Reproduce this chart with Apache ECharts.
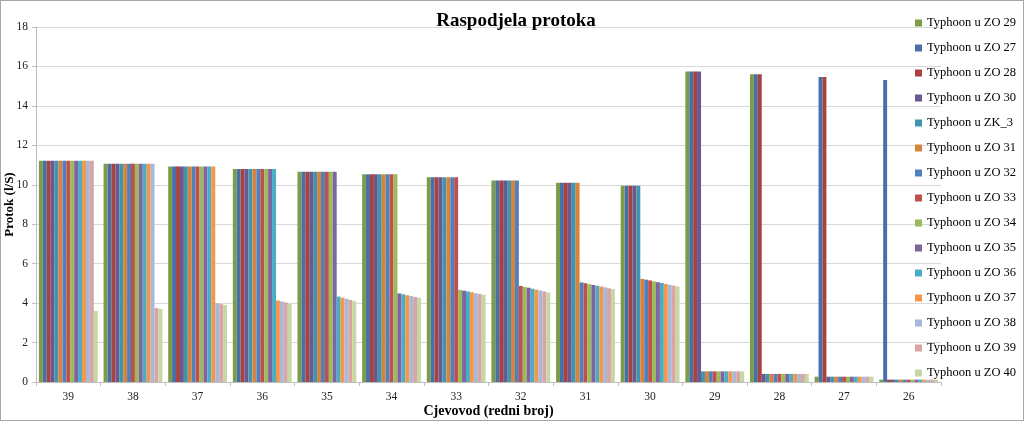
<!DOCTYPE html>
<html>
<head>
<meta charset="utf-8">
<script src="https://cdn.jsdelivr.net/npm/echarts@6/dist/echarts.min.js"></script>
<style>
html,body{margin:0;padding:0;background:#fff;}
#frame{width:1024px;height:421px;box-sizing:border-box;border:1px solid #a6a6a6;position:relative;}
#chart{position:absolute;left:0;top:0;width:1022px;height:419px;}
</style>
</head>
<body>
<div id="frame"><div id="chart"></div></div>
<script>
const categories = ['39','38','37','36','35','34','33','32','31','30','29','28','27','26'];
const yTicks = {min: 0, max: 18, interval: 2};
const seriesNames = ['Typhoon u ZO 29','Typhoon u ZO 27','Typhoon u ZO 28','Typhoon u ZO 30','Typhoon u ZK_3','Typhoon u ZO 31','Typhoon u ZO 32','Typhoon u ZO 33','Typhoon u ZO 34','Typhoon u ZO 35','Typhoon u ZO 36','Typhoon u ZO 37','Typhoon u ZO 38','Typhoon u ZO 39','Typhoon u ZO 40'];
const zo29 = [11.22,11.07,10.93,10.80,10.66,10.53,10.38,10.22,10.10,9.95,15.74,15.60,0.27,0.12];
const zo27 = [11.22,11.07,10.93,10.80,10.66,10.53,10.38,10.22,10.10,9.95,15.74,15.60,15.47,15.31];
const zo28 = [11.22,11.07,10.93,10.80,10.66,10.53,10.38,10.22,10.10,9.95,15.74,15.60,15.47,0.12];
const zo30 = [11.22,11.07,10.93,10.80,10.66,10.53,10.38,10.22,10.10,9.95,15.74,0.41,0.27,0.12];
const zk3  = [11.22,11.07,10.93,10.80,10.66,10.53,10.38,10.22,10.10,9.95,0.54,0.41,0.27,0.12];
const zo31 = [11.22,11.07,10.93,10.80,10.66,10.53,10.38,10.22,10.10,5.23,0.54,0.41,0.27,0.12];
const zo32 = [11.22,11.07,10.93,10.80,10.66,10.53,10.38,10.22,5.05,5.19,0.54,0.41,0.27,0.12];
const zo33 = [11.22,11.07,10.93,10.80,10.66,10.53,10.38,4.87,5.01,5.15,0.54,0.41,0.27,0.12];
const zo34 = [11.22,11.07,10.93,10.80,10.66,10.53,4.67,4.82,4.96,5.10,0.54,0.41,0.27,0.12];
const zo35 = [11.22,11.07,10.93,10.80,10.66,4.49,4.63,4.78,4.92,5.06,0.54,0.41,0.27,0.12];
const zo36 = [11.22,11.07,10.93,10.80,4.33,4.45,4.59,4.73,4.88,5.02,0.54,0.41,0.27,0.12];
const zo37 = [11.22,11.07,10.93,4.13,4.27,4.40,4.55,4.68,4.84,4.97,0.54,0.41,0.27,0.12];
const zo38 = [11.22,11.07,4.00,4.08,4.22,4.36,4.50,4.64,4.80,4.93,0.54,0.41,0.27,0.12];
const zo39 = [11.22,3.75,3.95,4.03,4.16,4.31,4.46,4.59,4.75,4.89,0.54,0.41,0.27,0.12];
const zo40 = [3.60,3.70,3.90,3.98,4.10,4.27,4.42,4.54,4.71,4.84,0.54,0.41,0.27,0.12];
const seriesValues = [zo29,zo27,zo28,zo30,zk3,zo31,zo32,zo33,zo34,zo35,zo36,zo37,zo38,zo39,zo40];
const colors = ['#7e9c47','#4670a8','#a8423f','#6b5890','#3f95ac','#d8823c','#4f81bd','#c0504d','#9bbb59','#8064a2','#4bacc6','#f79646','#a7b9da','#d9a5a4','#c6d7a4'];

const font = '"Liberation Serif", "Times New Roman", serif';
const chart = echarts.init(document.getElementById('chart'), null, {renderer: 'canvas'});
chart.setOption({
  animation: false,
  color: colors,
  title: {
    text: 'Raspodjela protoka',
    left: 510, top: 6, textAlign: 'center',
    textStyle: {fontFamily: font, fontSize: 19, fontWeight: 'bold', color: '#000'}
  },
  legend: {
    orient: 'vertical',
    left: 909, top: 10,
    icon: 'rect', itemWidth: 7, itemHeight: 7, itemGap: 11,
    textStyle: {fontFamily: font, fontSize: 12.5, color: '#000', lineHeight: 14},
    data: seriesNames
  },
  grid: {left: 35, right: 82, top: 26, bottom: 38, outerBoundsMode: 'none', containLabel: false},
  xAxis: {
    type: 'category',
    data: categories,
    name: 'Cjevovod (redni broj)',
    nameLocation: 'middle', nameGap: 22, nameMoveOverlap: false,
    nameTextStyle: {fontFamily: font, fontSize: 14, fontWeight: 'bold', color: '#000'},
    axisLine: {lineStyle: {color: '#bfbfbf'}},
    axisTick: {show: true, length: 4, lineStyle: {color: '#bfbfbf'}},
    axisLabel: {fontFamily: font, fontSize: 11.5, color: '#222', margin: 9}
  },
  yAxis: {
    type: 'value',
    min: yTicks.min, max: yTicks.max, interval: yTicks.interval,
    name: 'Protok (l/S)',
    nameLocation: 'middle', nameGap: 20, nameRotate: 90, nameMoveOverlap: false,
    nameTextStyle: {fontFamily: font, fontSize: 13, fontWeight: 'bold', color: '#000'},
    axisLine: {show: true, lineStyle: {color: '#bfbfbf'}},
    axisTick: {show: true, length: 4, lineStyle: {color: '#bfbfbf'}},
    splitLine: {lineStyle: {color: '#d9d9d9'}},
    axisLabel: {fontFamily: font, fontSize: 11.5, color: '#222', margin: 8}
  },
  series: seriesNames.map((n, i) => ({
    name: n, type: 'bar', data: seriesValues[i],
    barGap: '0%', barCategoryGap: '9%'
  }))
});
</script>
</body>
</html>
